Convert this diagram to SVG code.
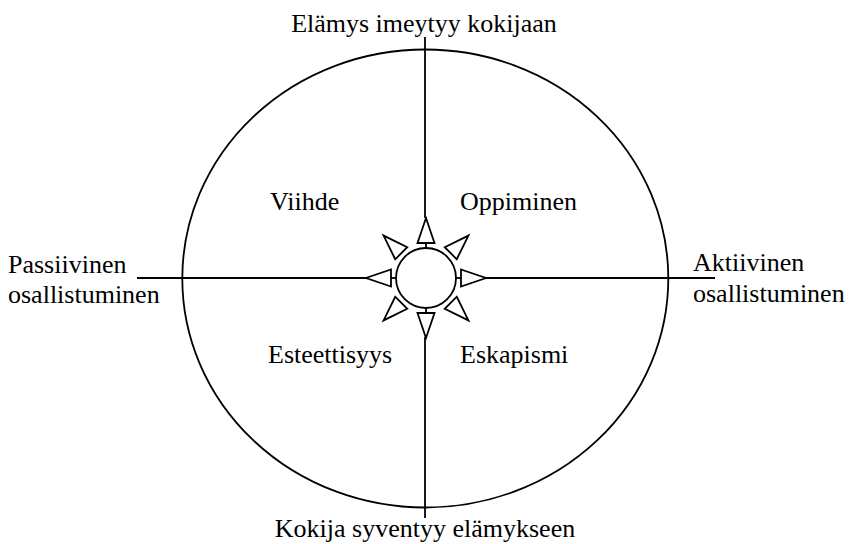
<svg xmlns="http://www.w3.org/2000/svg" width="852" height="544" viewBox="0 0 852 544">
<style>
.ln{stroke:#000;stroke-width:1.8;fill:none}
.tri{stroke:#000;stroke-width:1.8;fill:#fff;stroke-linejoin:miter}
text{font-family:"Liberation Serif","Times New Roman",serif;font-size:26px;fill:#000}
</style>
<defs>
<path id="tri" d="M -8.5,-35 L 0,-60 L 8.5,-35 Z"/>
</defs>
<rect width="852" height="544" fill="#fff"/>
<g id="ellipse"><ellipse class="ln" cx="425.3" cy="278.5" rx="243" ry="229"/></g>
<g id="connectors">
<line class="ln" x1="425" y1="37" x2="425" y2="218"/>
<line class="ln" x1="425" y1="337" x2="425" y2="518"/>
<line class="ln" x1="137" y1="278" x2="367" y2="278"/>
<line class="ln" x1="486" y1="278" x2="715" y2="278"/>
</g>
<g id="center" transform="translate(426,278)">
<line class="ln" x1="0" y1="-30" x2="0" y2="-35"/>
<line class="ln" x1="0" y1="30" x2="0" y2="35"/>
<line class="ln" x1="-30" y1="0" x2="-35" y2="0"/>
<line class="ln" x1="30" y1="0" x2="35" y2="0"/>
<circle class="ln" cx="0" cy="0" r="30" fill="#fff"/>
<use href="#tri" class="tri" transform="rotate(0)"/>
<use href="#tri" class="tri" transform="rotate(45)"/>
<use href="#tri" class="tri" transform="rotate(90)"/>
<use href="#tri" class="tri" transform="rotate(135)"/>
<use href="#tri" class="tri" transform="rotate(180)"/>
<use href="#tri" class="tri" transform="rotate(225)"/>
<use href="#tri" class="tri" transform="rotate(270)"/>
<use href="#tri" class="tri" transform="rotate(315)"/>
</g>
<g id="top-label"><text x="424" y="32" text-anchor="middle">Elämys imeytyy kokijaan</text></g>
<g id="bottom-label"><text x="425" y="537" text-anchor="middle">Kokija syventyy elämykseen</text></g>
<g id="left-label"><text x="8" y="273">Passiivinen</text><text x="8" y="303">osallistuminen</text></g>
<g id="right-label"><text x="693" y="271">Aktiivinen</text><text x="693" y="302">osallistuminen</text></g>
<g id="viihde"><text x="270" y="210">Viihde</text></g>
<g id="oppiminen"><text x="460" y="210">Oppiminen</text></g>
<g id="esteettisyys"><text x="268" y="363">Esteettisyys</text></g>
<g id="eskapismi"><text x="460" y="363">Eskapismi</text></g>
</svg>
